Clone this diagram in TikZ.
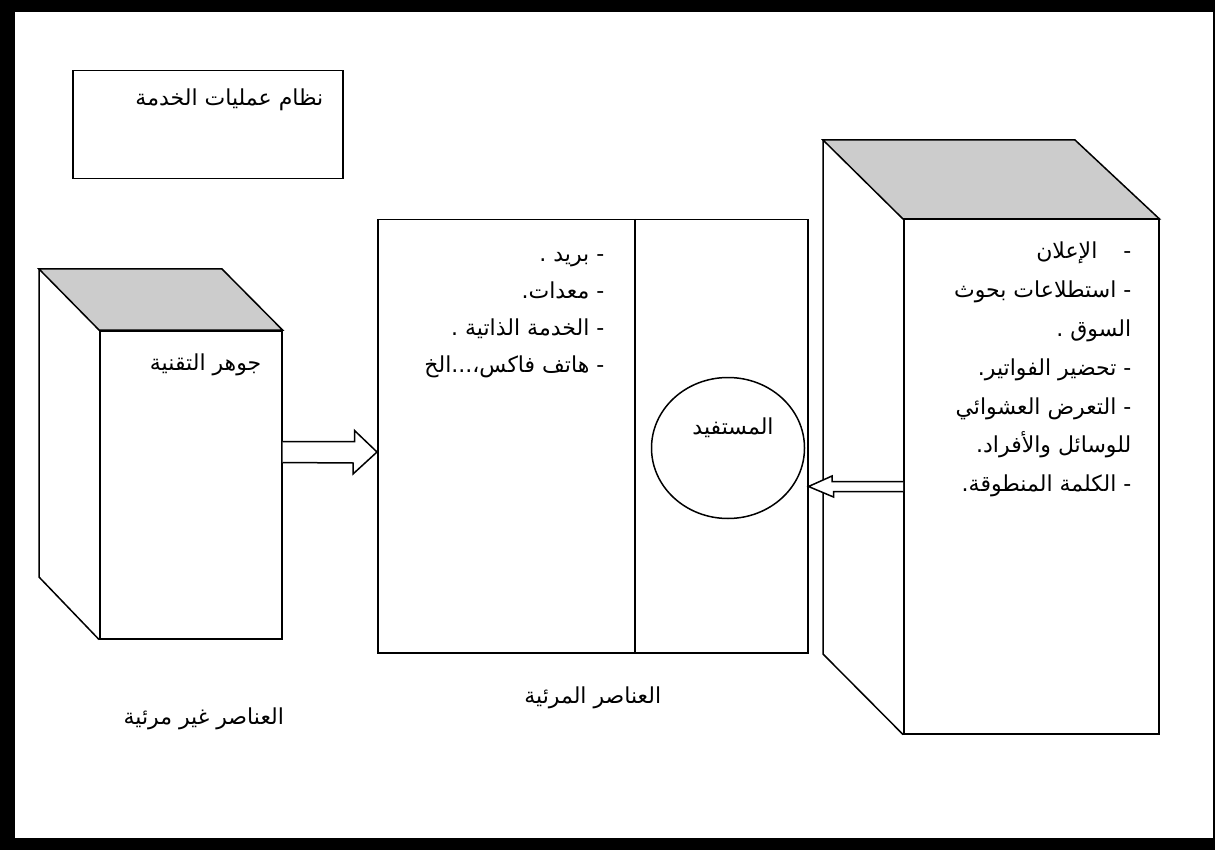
\documentclass[tikz,border=0pt]{standalone}
\usepackage{fontspec}
\newfontfamily\arabicfont[Script=Arabic]{DejaVu Sans}
\TeXXeTstate=1
\usepackage{tikz}
\usetikzlibrary{positioning, shapes.geometric}
\usepackage{xcolor}
\definecolor{topgrey}{RGB}{204,204,204}
\newcommand{\ar}[1]{\beginR #1\endR}
\tikzset{
  face/.style={draw, line width=1.5pt, fill=white, inner sep=0pt},
  artext/.style={inner sep=0pt, font=\arabicfont\fontsize{22}{26}\selectfont},
  hollow/.style={draw, line width=1.5pt, fill=white, line join=miter},
}

\begin{document}
\begin{tikzpicture}[x=1pt, y=-1pt]
    \useasboundingbox (0,0) rectangle (1215,850);
    \fill[black] (0,0) rectangle (1215,850);
    \fill[white] (15,12) rectangle (1213,838);

    \node[face, minimum width=270pt, minimum height=108pt, anchor=north west] (system) at (72,70) {};
    \node[artext, below left=19pt and 20pt of system.north east] (systemtext) {\ar{نظام عمليات الخدمة}};

    % left cube
    \node[face, minimum width=182pt, minimum height=308pt, anchor=north west] (tech) at (99,330) {};
    \draw[face, fill=topgrey] (tech.north west) -- ++(-60,-61) -- ++(183,0) -- (tech.north east) -- cycle;
    \draw[face, fill=none] (tech.north west) ++(-60,-61) -- ++(0,308) -- (tech.south west);
    \node[artext, below left=24pt and 21pt of tech.north east] (techtext) {\ar{جوهر التقنية}};
    \node[artext, below=68pt of tech, xshift=13pt] (hidden) {\ar{العناصر غير مرئية}};

    % middle box
    \node[face, minimum width=430pt, minimum height=433pt, anchor=north west] (visible) at (377,219) {};
    \draw[face] (635,219) -- (635,652);
    \node[artext, align=right, font=\arabicfont\fontsize{22}{37}\selectfont,
          below left=33pt and 204pt of visible.north east] (tools) {%
        \ar{- بريد .}\\
        \ar{- معدات\kern0pt.}\\
        \ar{- الخدمة الذاتية .}\\
        \ar{- هاتف فاكس،...الخ}};
    \node[face, ellipse, minimum width=153pt, minimum height=141pt] (user) at (728,448) {};
    \node[artext, above=10pt of user.center, xshift=5pt] (usertext) {\ar{المستفيد}};
    \node[artext, below=33pt of visible] (seen) {\ar{العناصر المرئية}};

    % right cube
    \node[face, minimum width=255pt, minimum height=514pt, anchor=north west] (media) at (903,219) {};
    \draw[face, fill=topgrey] (media.north west) -- ++(-80,-79) -- ++(252,0) -- (media.north east) -- cycle;
    \draw[face, fill=none] (media.north west) ++(-80,-79) -- ++(0,514) -- (media.south west);
    \node[artext, align=right, font=\arabicfont\fontsize{22}{38.8}\selectfont,
          below left=23pt and 28pt of media.north east] (mediatext) {%
        \ar{-\hspace{26pt}الإعلان}\\
        \ar{- استطلاعات بحوث}\\
        \ar{السوق .}\\
        \ar{- تحضير الفواتير\kern0pt.}\\
        \ar{- التعرض العشوائي}\\
        \ar{للوسائل والأفراد\kern0pt.}\\
        \ar{- الكلمة المنطوقة\kern0pt.}};

    % hollow arrows
    \draw[hollow] (tech.east |- 0,441.5) -- ++(72,0) -- ++(0,-11) -- (visible.west |- 0,452)
        -- ++(-24,22) -- ++(0,-11) -- (tech.east |- 0,462.5);
    \draw[hollow] (media.west |- 0,481.5) -- ++(-71,0) -- ++(0,-5.5) -- (visible.east |- 0,486.5)
        -- ++(25,10.5) -- ++(0,-5.5) -- (media.west |- 0,491.5);
\end{tikzpicture}
\end{document}
